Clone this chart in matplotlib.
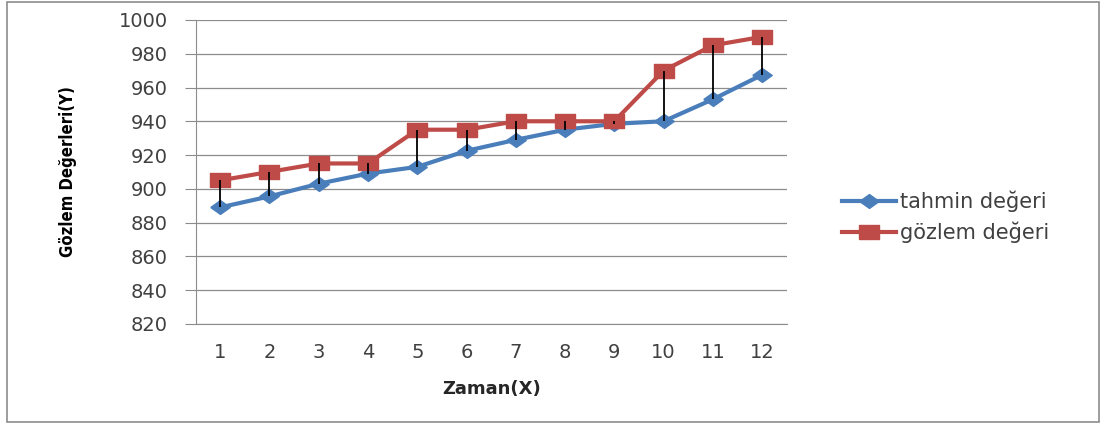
import numpy as np
import matplotlib.pyplot as plt
from matplotlib.patches import Rectangle

zaman = list(range(1, 13))
tahmin = [889, 895.5, 903, 909, 913, 922.5, 929, 935, 938.5, 940, 953, 967.5]
gozlem = [905, 910, 915, 915, 935, 935, 940, 940, 940, 970, 985, 990]
y_ticks = list(range(820, 1001, 20))

blue = '#4A7EBB'
red = '#BE4B48'
txt = '#404040'

# the reference is stretched sideways, so markers are wider than tall
square = np.array([[-1.6, -1], [1.6, -1], [1.6, 1], [-1.6, 1], [-1.6, -1]])
diamond = np.array([[-1.4, 0], [0, -1], [1.4, 0], [0, 1], [-1.4, 0]])

fig = plt.figure(figsize=(11.05, 4.25), dpi=100)
ax = fig.add_axes([0.177, 0.238, 0.535, 0.715])

ax.plot(zaman, tahmin, color=blue, linewidth=3, marker=diamond, markersize=14,
        markerfacecolor=blue, markeredgecolor=blue, label='tahmin değeri', zorder=3)
ax.plot(zaman, gozlem, color=red, linewidth=3, marker=square, markersize=15,
        markerfacecolor=red, markeredgecolor=red, label='gözlem değeri', zorder=4)
ax.vlines(zaman, tahmin, gozlem, colors='black', linewidth=1.3, zorder=5)

ax.set_xlim(0.5, 12.5)
ax.set_ylim(820, 1000)
ax.set_yticks(y_ticks)
ax.set_xticks(zaman)
ax.grid(axis='y', color='#8c8c8c', linewidth=0.9)
ax.set_axisbelow(True)
for s in ['top', 'right']:
    ax.spines[s].set_visible(False)
ax.spines['left'].set_color('#8c8c8c')
ax.spines['bottom'].set_color('#8c8c8c')
ax.tick_params(axis='y', length=8, color='#8c8c8c', labelsize=14, labelcolor=txt, pad=12)
ax.tick_params(axis='x', length=0, labelsize=14, labelcolor=txt, pad=14)

ax.set_xlabel('Zaman(X)', fontsize=13, fontweight='bold', color='#262626', labelpad=13)
ax.set_ylabel('Gözlem Değerleri(Y)', fontsize=12, fontweight='bold', color='black',
              fontstretch='condensed', labelpad=30)

fig.legend(loc='center left', bbox_to_anchor=(0.745, 0.49), frameon=False,
           fontsize=15, handlelength=2.6, labelspacing=0.45, handletextpad=0.2,
           labelcolor=txt)

fig.patches.append(Rectangle((0.006, 0.006), 0.989, 0.99, transform=fig.transFigure,
                             fill=False, edgecolor='#8c8c8c', linewidth=1.2))

fig.savefig('out.png', dpi=100)
